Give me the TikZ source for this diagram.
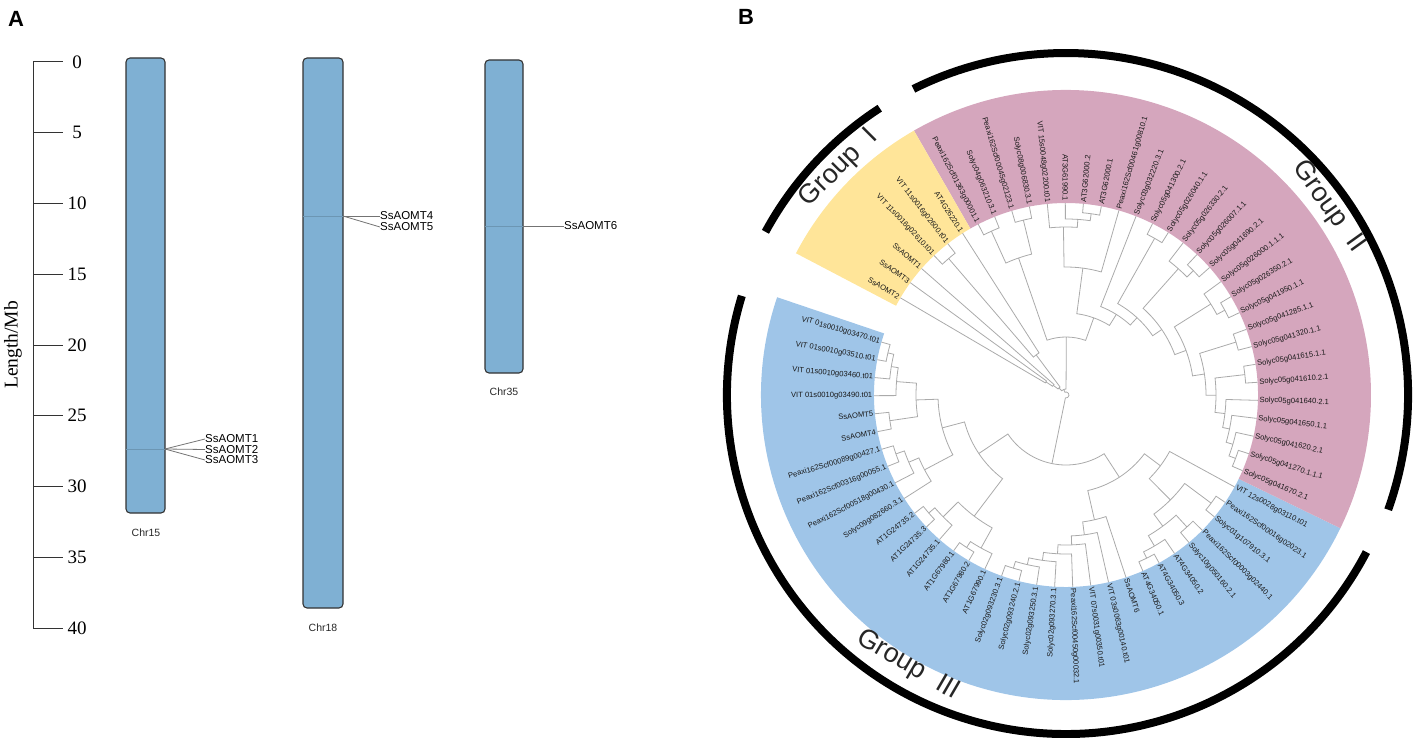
\documentclass[tikz,border=0pt]{standalone}
\usepackage{fontspec}
\setmainfont{Liberation Sans}
\newfontfamily\serifnum{Liberation Serif}
\usetikzlibrary{positioning}

\definecolor{chrblue}{RGB}{127,176,211}
\definecolor{grpyellow}{HTML}{FFE599}
\definecolor{grppink}{HTML}{D5A6BD}
\definecolor{grpblue}{HTML}{9FC5E8}
\definecolor{treegray}{RGB}{170,170,170}

% leaf angle / radius store, and one clade = two radial lines + one arc
\newcommand{\setleaf}[2]{%
  \expandafter\xdef\csname ta@#1\endcsname{#2}%
  \expandafter\xdef\csname tr@#1\endcsname{192}}
\newcommand{\clade}[4]{%
  \edef\angA{\csname ta@#2\endcsname}%
  \edef\angB{\csname ta@#3\endcsname}%
  \edef\radA{\csname tr@#2\endcsname}%
  \edef\radB{\csname tr@#3\endcsname}%
  \draw[branch] (\angA:\radA) -- (\angA:#4)
    arc[start angle=\angA, end angle=\angB, radius=#4] -- (\angB:\radB);
  \pgfmathsetmacro\angM{(\angA+\angB)/2}%
  \expandafter\xdef\csname ta@#1\endcsname{\angM}%
  \expandafter\xdef\csname tr@#1\endcsname{#4}}

\begin{document}
\begin{tikzpicture}[x=1pt, y=-1pt,
  axisline/.style={draw=black!80, line width=1pt},
  ticklab/.style={font=\serifnum\fontsize{19}{19}\selectfont, inner sep=0pt},
  chrom/.style={draw=black!80, fill=chrblue, line width=1.1pt, rounded corners=4pt},
  chrlab/.style={font=\fontsize{10.5}{11}\selectfont, text=black!85},
  genetick/.style={draw=chrblue!85!black, line width=0.5pt},
  fanline/.style={draw=black!55, line width=0.8pt},
  genelab/.style={font=\fontsize{11.5}{11.5}\selectfont, inner sep=0pt, anchor=west},
  branch/.style={draw=treegray, line width=0.8pt},
  leaflab/.style={font=\fontsize{7.6}{8}\selectfont, inner sep=0.6pt, text=black!90},
  grouparc/.style={draw=black, line width=8pt},
  grouplab/.style={font=\fontsize{27}{27}\selectfont, text=black!85},
  panellab/.style={font=\bfseries\fontsize{22}{22}\selectfont}]
\useasboundingbox (0,0) rectangle (1417,738);

% ---------------- panel A ----------------
\node[panellab] (pA) at (16,19) {A};
\draw[axisline] (33,62) -- (33,628);
\foreach \v in {0,5,...,40} {
  \draw[axisline] (33,{62+14.15*\v}) -- (63,{62+14.15*\v});
  \node[ticklab] (tick\v) at (77,{62+14.15*\v}) {\v};
}
\node[font=\serifnum\fontsize{19.5}{19.5}\selectfont, rotate=90] (ylab) at (13,345) {Length/Mb};

\draw[chrom] (126,58) rectangle (165,513);
\draw[chrom] (303,58) rectangle (343,608);
\draw[chrom] (485,60) rectangle (523,373);
\node[chrlab] (chr15) at (146,533) {Chr15};
\node[chrlab] (chr18) at (323,628) {Chr18};
\node[chrlab] (chr35) at (504,392) {Chr35};

\draw[genetick] (126,449) -- (165,449);
\draw[genetick] (303,216) -- (343,216);
\draw[genetick] (485,226) -- (523,226);
\coordinate (m15) at (165,449);
\coordinate (m18) at (343,216);
\coordinate (m35) at (523,226);

\node[genelab] (g1) at (205,439) {SsAOMT1};
\node[genelab] (g2) at (205,449.5) {SsAOMT2};
\node[genelab] (g3) at (205,460) {SsAOMT3};
\node[genelab] (g4) at (380,216) {SsAOMT4};
\node[genelab] (g5) at (380,227) {SsAOMT5};
\node[genelab] (g6) at (564,226) {SsAOMT6};
\foreach \g in {g1,g2,g3} \draw[fanline] (m15) -- (\g.west);
\foreach \g in {g4,g5} \draw[fanline] (m18) -- (\g.west);
\draw[fanline] (m35) -- (g6.west);

% ---------------- panel B ----------------
\node[panellab] (pB) at (746,17) {B};
\begin{scope}[shift={(1066,395)}, y=1pt]
  % coloured bands
  \fill[grpblue] (161.3:192) arc[start angle=161.3, end angle=334.1, radius=192]
    -- (334.1:305) arc[start angle=334.1, end angle=161.3, radius=305] -- cycle;
  \fill[grppink] (334.1:192) arc[start angle=334.1, end angle=479.9, radius=192]
    -- (479.9:305) arc[start angle=479.9, end angle=334.1, radius=305] -- cycle;
  \fill[grpyellow] (479.9:192) arc[start angle=479.9, end angle=512.3, radius=192]
    -- (512.3:305) arc[start angle=512.3, end angle=479.9, radius=305] -- cycle;

  % leaves
  \foreach \k in {0,...,64} {
    \pgfmathsetmacro\la{164+5.4*\k}
    \setleaf{k\k}{\la}
  }

  % group III
  \clade{b1}{k0}{k1}{183}
  \clade{b2}{b1}{k2}{177}
  \clade{b3}{b2}{k3}{170}
  \clade{b4}{k4}{k5}{178}
  \clade{b5}{b3}{b4}{150}
  \clade{b6}{k6}{k7}{180}
  \clade{b7}{b6}{k8}{171}
  \clade{b8}{b7}{k9}{160}
  \clade{b9}{b5}{b8}{128}
  \clade{b10}{k10}{k11}{181}
  \clade{b11}{b10}{k12}{173}
  \clade{b12}{k13}{k14}{182}
  \clade{b13}{b12}{k15}{175}
  \clade{b14}{b11}{b13}{152}
  \clade{b15}{b9}{b14}{105}
  \clade{b16}{k16}{k17}{181}
  \clade{b17}{b16}{k18}{174}
  \clade{b18}{b17}{k19}{167}
  \clade{b19}{b18}{k20}{159}
  \clade{b20}{b19}{k21}{150}
  \clade{b21}{b20}{k22}{141}
  \clade{b22}{b21}{k23}{128}
  \clade{b23}{k24}{k25}{182}
  \clade{b24}{b23}{k26}{175}
  \clade{b25}{k27}{k28}{179}
  \clade{b26}{b24}{b25}{163}
  \clade{b27}{k29}{k30}{181}
  \clade{b28}{b26}{b27}{148}
  \clade{b29}{b28}{k31}{118}
  \clade{b30}{b22}{b29}{98}
  \clade{bb}{b15}{b30}{70}
  % group II
  \clade{p1}{k32}{k33}{181}
  \clade{p2}{p1}{k34}{174}
  \clade{p3}{p2}{k35}{167}
  \clade{p4}{p3}{k36}{160}
  \clade{p5}{k37}{k38}{180}
  \clade{p6}{p4}{p5}{150}
  \clade{p7}{k39}{k40}{178}
  \clade{p8}{p6}{p7}{140}
  \clade{p9}{k41}{k42}{180}
  \clade{p10}{p9}{k43}{171}
  \clade{p11}{p8}{p10}{128}
  \clade{p12}{k44}{k45}{178}
  \clade{p13}{p12}{k46}{169}
  \clade{p14}{p11}{p13}{116}
  \clade{p15}{k47}{k48}{180}
  \clade{p16}{p14}{p15}{105}
  \clade{p17}{p16}{k49}{95}
  \clade{p19}{k51}{k52}{183}
  \clade{p20}{p19}{k53}{176}
  \clade{p21}{p20}{k54}{168}
  \clade{p18}{k50}{p21}{128}
  \clade{p22}{p17}{p18}{82}
  \clade{p23}{k55}{k56}{180}
  \clade{p24}{k57}{k58}{180}
  \clade{p25}{p23}{p24}{145}
  \clade{pp}{p22}{p25}{58}
  % group I and root
  \clade{y1}{k60}{k61}{180}
  \clade{y2}{k59}{y1}{50}
  \clade{y3}{k63}{k64}{24}
  \clade{y4}{k62}{y3}{16}
  \clade{yy}{y2}{y4}{10}
  \clade{py}{pp}{yy}{6}
  \clade{root}{bb}{py}{3}

  % labels, left half
  \foreach \k/\lab in {0/VIT 01s0010g03470.t01, 1/VIT 01s0010g03510.t01,
      2/VIT 01s0010g03460.t01, 3/VIT 01s0010g03490.t01, 4/SsAOMT5, 5/SsAOMT4,
      6/Peaxi162Scf00089g00427.1, 7/Peaxi162Scf00316g00055.1,
      8/Peaxi162Scf00518g00430.1, 9/Solyc09g082660.3.1, 10/AT1G24735.2,
      11/AT1G24735.3, 12/AT1G24735.1, 13/AT1G67980.1, 14/AT1G67980.2,
      15/AT1G67990.1, 16/Solyc02g093230.3.1, 17/Solyc02g093240.2.1,
      18/Solyc02g093250.3.1, 19/Solyc02g093270.3.1,
      53/AT3G61990.1, 54/VIT 15s0048g02200.t01, 55/Solyc08g006830.3.1,
      56/Peaxi162Scf00045g02123.1, 57/Solyc04g063210.3.1,
      58/Peaxi162Scf01363g00001.1, 59/AT4G26220.1, 60/VIT 11s0016g02600.t01,
      61/VIT 11s0016g02610.t01, 62/SsAOMT1, 63/SsAOMT3, 64/SsAOMT2} {
    \pgfmathsetmacro\la{164+5.4*\k}
    \node[leaflab, anchor=east, rotate=\la+180] (leaf\k) at (\la:193) {\lab};
  }
  % labels, right half
  \foreach \k/\lab in {20/Peaxi162Scf00450g00032.1, 21/VIT 07s0031g00350.t01,
      22/VIT 03s0063g00140.t01, 23/SsAOMT6, 24/AT4G34050.1, 25/AT4G34050.3,
      26/AT4G34050.2, 27/Solyc10g050160.2.1, 28/Peaxi162Scf00003g02440.1,
      29/Solyc01g107910.3.1, 30/Peaxi162Scf00016g02023.1,
      31/VIT 12s0028g03110.t01, 32/Solyc05g041670.2.1, 33/Solyc05g041270.1.1.1,
      34/Solyc05g041620.2.1, 35/Solyc05g041650.1.1, 36/Solyc05g041640.2.1,
      37/Solyc05g041610.2.1, 38/Solyc05g041615.1.1, 39/Solyc05g041320.1.1,
      40/Solyc05g041285.1.1, 41/Solyc05g041950.1.1, 42/Solyc05g026350.2.1,
      43/Solyc05g026000.1.1.1, 44/Solyc05g041690.2.1, 45/Solyc05g026007.1.1,
      46/Solyc05g026330.2.1, 47/Solyc05g026040.1.1, 48/Solyc05g041300.2.1,
      49/Solyc03g032220.3.1, 50/Peaxi162Scf00461g00810.1, 51/AT3G62000.1,
      52/AT3G62000.2} {
    \pgfmathsetmacro\la{164+5.4*\k}
    \node[leaflab, anchor=west, rotate=\la] (leaf\k) at (\la:193) {\lab};
  }

  % group rings
  \draw[grouparc] (123:342) arc[start angle=123, end angle=151.5, radius=342];
  \draw[grouparc] (-19.6:342) arc[start angle=-19.6, end angle=116.5, radius=342];
  \draw[grouparc] (163:339) arc[start angle=163, end angle=332.4, radius=339];
  \node[grouplab, rotate=45] (grp1) at (135:321) {Group\hspace{0.6em}I};
  \node[grouplab, rotate=-54.4] (grp2) at (35.6:323) {Group\hspace{0.6em}II};
  \node[grouplab, rotate=-30.3] (grp3) at (239.7:313) {Group\hspace{0.6em}III};
\end{scope}
\end{tikzpicture}
\end{document}
